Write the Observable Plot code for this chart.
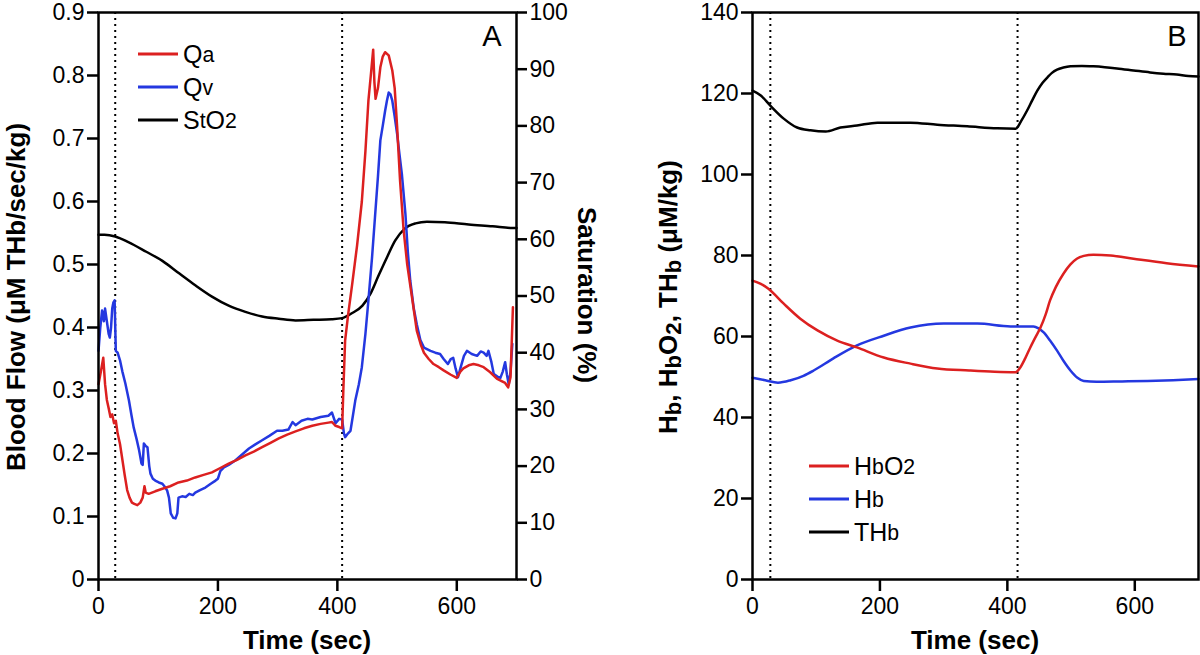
<!DOCTYPE html>
<html><head><meta charset="utf-8">
<script src="https://cdn.jsdelivr.net/npm/d3@7"></script>
<script src="https://cdn.jsdelivr.net/npm/@observablehq/plot@0.6"></script>
<style>
body{margin:0;background:#fff;font-family:"Liberation Sans",Arial,sans-serif;color:#000}
#wrap{position:relative;width:1200px;height:655px;overflow:hidden;background:#fff}
.panel{position:absolute;top:0}
.lbl{position:absolute;white-space:nowrap;font-weight:bold;font-size:26px;transform:translate(-50%,-50%)}
.rot-l{transform:translate(-50%,-50%) rotate(-90deg)}
.rot-r{transform:translate(-50%,-50%) rotate(90deg)}
.letter{position:absolute;font-size:29px;transform:translate(-50%,-50%)}
.leg{position:absolute;display:flex;align-items:center;font-size:25px;transform:translateY(-50%);white-space:nowrap}
.sw{display:inline-block;width:40px;height:2.5px;margin-right:5px}
sub{font-size:0.85em;vertical-align:-0.2em;line-height:0}
</style></head>
<body><div id="wrap">
<div id="left" class="panel" style="left:0"></div>
<div id="right" class="panel" style="left:600px"></div>

<div class="lbl rot-l" style="left:16px;top:297px">Blood Flow (μM THb/sec/kg)</div>
<div class="lbl rot-r" style="left:586px;top:295px">Saturation (%)</div>
<div class="lbl" style="left:307px;top:640px">Time (sec)</div>
<div class="lbl" style="left:975px;top:640px">Time (sec)</div>
<div class="lbl rot-l" style="left:668px;top:297px">H<sub>b</sub>, H<sub>b</sub>O<sub>2</sub>, TH<sub>b</sub> (μM/kg)</div>
<div class="letter" style="left:492px;top:36px">A</div>
<div class="letter" style="left:1177px;top:36px">B</div>

<div class="leg" style="left:138px;top:54px"><span class="sw" style="background:#dc2020"></span>Q<sub>a</sub></div>
<div class="leg" style="left:138px;top:87px"><span class="sw" style="background:#2438e0"></span>Q<sub>v</sub></div>
<div class="leg" style="left:138px;top:120px"><span class="sw" style="background:#000"></span>S<sub>t</sub>O<sub>2</sub></div>

<div class="leg" style="left:809px;top:466px"><span class="sw" style="background:#dc2020"></span>H<sub>b</sub>O<sub>2</sub></div>
<div class="leg" style="left:809px;top:499px"><span class="sw" style="background:#2438e0"></span>H<sub>b</sub></div>
<div class="leg" style="left:809px;top:532px"><span class="sw" style="background:#000"></span>TH<sub>b</sub></div>
</div>
<script>
// ---------- Panel A data ----------
const qaTime = [0,4,8,11,14,17,20,23,26,29,32,36,40,44,48,52,56,60,65,70,74,77,79,84,95,107,120,134,148,162,176,190,204,218,232,246,260,274,288,302,316,330,344,358,372,385,391,397,403,408,410,413,418,425,433,441,447,452,456,460,462,464,468,472,476,480,486,492,496,500,505,511,517,525,533,540,545,553,561,570,578,590,600,606,611,620,628,637,645,656,667,675,681,686,690,694];
const qaValue = [0.31,0.33,0.352,0.31,0.285,0.272,0.258,0.262,0.248,0.252,0.232,0.215,0.19,0.165,0.142,0.13,0.122,0.12,0.118,0.122,0.13,0.148,0.138,0.136,0.14,0.144,0.148,0.154,0.157,0.162,0.166,0.17,0.177,0.184,0.19,0.197,0.203,0.21,0.217,0.224,0.23,0.235,0.24,0.244,0.247,0.249,0.25,0.244,0.242,0.24,0.30,0.379,0.42,0.47,0.53,0.60,0.68,0.76,0.80,0.841,0.79,0.763,0.78,0.813,0.83,0.837,0.832,0.808,0.78,0.72,0.633,0.554,0.50,0.448,0.395,0.372,0.36,0.35,0.342,0.337,0.332,0.325,0.32,0.33,0.335,0.34,0.342,0.34,0.337,0.329,0.319,0.315,0.312,0.305,0.321,0.432];

const qvTime = [0,3,6,9,11,14,17,19,21,23,25,27,29,32,36,40,45,51,55,59,64,68,72,74,76,79,82,85,87,91,95,101,107,112,115,118,121,125,129,132,134,140,146,152,158,162,170,179,188,196,200,204,210,218,229,240,252,262,274,286,299,308,318,325,330,340,350,358,372,385,391,397,403,408,411,413,418,422,426,430,436,441,447,452,458,463,468,472,476,480,483,486,489,492,496,500,504,508,514,518,522,528,533,539,545,556,564,572,578,585,590,594,598,602,606,612,617,625,634,640,645,650,653,658,662,668,673,677,681,684,687,690,693];
const qvValue = [0.363,0.40,0.427,0.41,0.43,0.41,0.39,0.384,0.40,0.43,0.44,0.443,0.363,0.36,0.348,0.33,0.311,0.284,0.262,0.241,0.222,0.205,0.184,0.182,0.216,0.212,0.21,0.18,0.168,0.16,0.157,0.154,0.152,0.146,0.141,0.13,0.105,0.098,0.097,0.105,0.13,0.132,0.131,0.136,0.134,0.138,0.142,0.146,0.152,0.157,0.16,0.172,0.178,0.182,0.189,0.198,0.208,0.214,0.221,0.228,0.236,0.236,0.238,0.25,0.245,0.252,0.255,0.254,0.258,0.26,0.265,0.248,0.255,0.254,0.232,0.226,0.232,0.236,0.26,0.284,0.31,0.337,0.39,0.443,0.51,0.575,0.64,0.697,0.72,0.744,0.76,0.773,0.77,0.76,0.735,0.708,0.675,0.644,0.58,0.52,0.475,0.43,0.405,0.38,0.368,0.363,0.36,0.358,0.35,0.342,0.35,0.352,0.335,0.321,0.335,0.355,0.363,0.358,0.355,0.362,0.36,0.355,0.363,0.345,0.326,0.322,0.32,0.33,0.345,0.325,0.31,0.33,0.374];

const stTime = [0,10,28,50,80,107,135,162,190,218,246,274,302,330,360,390,408,425,442,456,469,483,497,512,531,550,580,620,660,693,700];
const stSaturation = [60.8,60.8,60.5,59.5,57.8,56.2,54.0,51.9,49.9,48.3,47.2,46.4,46.0,45.7,45.8,45.9,46.1,47.0,48.3,50.5,53.6,56.8,59.8,61.8,62.8,63.1,63.0,62.6,62.3,62.0,62.0];

const leftEvents = [28, 408];
const timeTicks = [0, 200, 400, 600];
const flowTicks = [0, 0.1, 0.2, 0.3, 0.4, 0.5, 0.6, 0.7, 0.8, 0.9];
const satTicks = [0, 10, 20, 30, 40, 50, 60, 70, 80, 90, 100];

// ---------- Panel B data ----------
const thbTime = [0,13,28,49,70,91,115,138,164,196,248,290,337,384,413,422,431,439,447,455,463,470,478,488,499,517,535,553,572,598,624,645,666,684,700];
const thbValue = [120.7,119.5,117,113.8,111.6,110.9,110.6,111.6,112.1,112.8,112.8,112.3,111.9,111.4,111.3,113.3,115.8,118.3,120.7,122.6,124,125.1,125.9,126.4,126.7,126.8,126.7,126.5,126.2,125.7,125.2,124.9,124.7,124.3,124.2];
const hbo2Time = [0,13,25,49,75,102,133,164,206,248,290,340,380,413,420,428,436,444,452,460,467,476,488,499,509,520,535,562,598,650,700];
const hbo2Value = [73.8,73.0,71.8,68.1,64.4,61.5,59,57.3,54.8,53.3,52.1,51.6,51.3,51.2,52.3,54.6,57.3,59.8,62.2,65.4,68.9,72.2,75.5,77.8,79.2,79.9,80.2,80,79.2,78.1,77.3];
const hbTime = [0,20,40,60,80,96,127,164,206,248,300,353,405,425,441,449,457,467,478,488,499,510,520,540,580,620,660,700];
const hbValue = [49.8,49.2,48.6,49.2,50.3,51.6,54.6,57.8,60.2,62.2,63.2,63.2,62.5,62.5,62.5,62,61,59,56.5,54,51.6,49.8,49.0,48.8,48.9,49.0,49.2,49.5];
const rightEvents = [28, 416];
const hbTicks = [0, 20, 40, 60, 80, 100, 120, 140];

// ---------- drawing ----------
const RED = "#dc2020", BLUE = "#2438e0", BLACK = "#000";
const SAT = 0.9 / 100; // saturation % -> flow axis units
const zip = (ts, vs) => ts.map((t, i) => ({t, v: vs[i]}));
const style = {fontFamily: "'Liberation Sans', Arial, sans-serif", fontSize: "23px", color: "#000", background: "transparent", overflow: "visible"};
const LW = 2.5;

const left = Plot.plot({
  width: 600, height: 655,
  marginTop: 12, marginBottom: 76, marginLeft: 98, marginRight: 84,
  style,
  x: {domain: [0, 700]},
  y: {domain: [0, 0.9]},
  marks: [
    Plot.ruleX(leftEvents, {stroke: BLACK, strokeWidth: 2, strokeDasharray: "2,4"}),
    Plot.line(zip(stTime, stSaturation.map(s => s * SAT)), {x: "t", y: "v", stroke: BLACK, strokeWidth: LW, curve: "monotone-x"}),
    Plot.line(zip(qvTime, qvValue), {x: "t", y: "v", stroke: BLUE, strokeWidth: LW}),
    Plot.line(zip(qaTime, qaValue), {x: "t", y: "v", stroke: RED, strokeWidth: LW}),
    Plot.axisX(timeTicks, {tickSize: 12, tickPadding: 6, strokeWidth: LW, label: null, tickFormat: d => String(d)}),
    Plot.axisY(flowTicks, {tickSize: 11, tickPadding: 3, strokeWidth: LW, label: null, tickFormat: d => d === 0 ? "0" : d3.format(".1f")(d)}),
    Plot.axisY(satTicks.map(s => s * SAT), {anchor: "right", tickSize: 10, tickPadding: 3, strokeWidth: LW, label: null, tickFormat: d => String(Math.round(d / SAT))}),
    Plot.frame({stroke: BLACK, strokeWidth: LW})
  ]
});
document.getElementById("left").appendChild(left);

const right = Plot.plot({
  width: 600, height: 655,
  marginTop: 12, marginBottom: 76, marginLeft: 152, marginRight: 2,
  style,
  x: {domain: [0, 700]},
  y: {domain: [0, 140]},
  marks: [
    Plot.ruleX(rightEvents, {stroke: BLACK, strokeWidth: 2, strokeDasharray: "2,4"}),
    Plot.line(zip(thbTime, thbValue), {x: "t", y: "v", stroke: BLACK, strokeWidth: LW, curve: "monotone-x"}),
    Plot.line(zip(hbTime, hbValue), {x: "t", y: "v", stroke: BLUE, strokeWidth: LW, curve: "monotone-x"}),
    Plot.line(zip(hbo2Time, hbo2Value), {x: "t", y: "v", stroke: RED, strokeWidth: LW, curve: "monotone-x"}),
    Plot.axisX(timeTicks, {tickSize: 12, tickPadding: 6, strokeWidth: LW, label: null, tickFormat: d => String(d)}),
    Plot.axisY(hbTicks, {tickSize: 11, tickPadding: 3, strokeWidth: LW, label: null, tickFormat: d => String(d)}),
    Plot.frame({stroke: BLACK, strokeWidth: LW})
  ]
});
document.getElementById("right").appendChild(right);
</script>
</body></html>
